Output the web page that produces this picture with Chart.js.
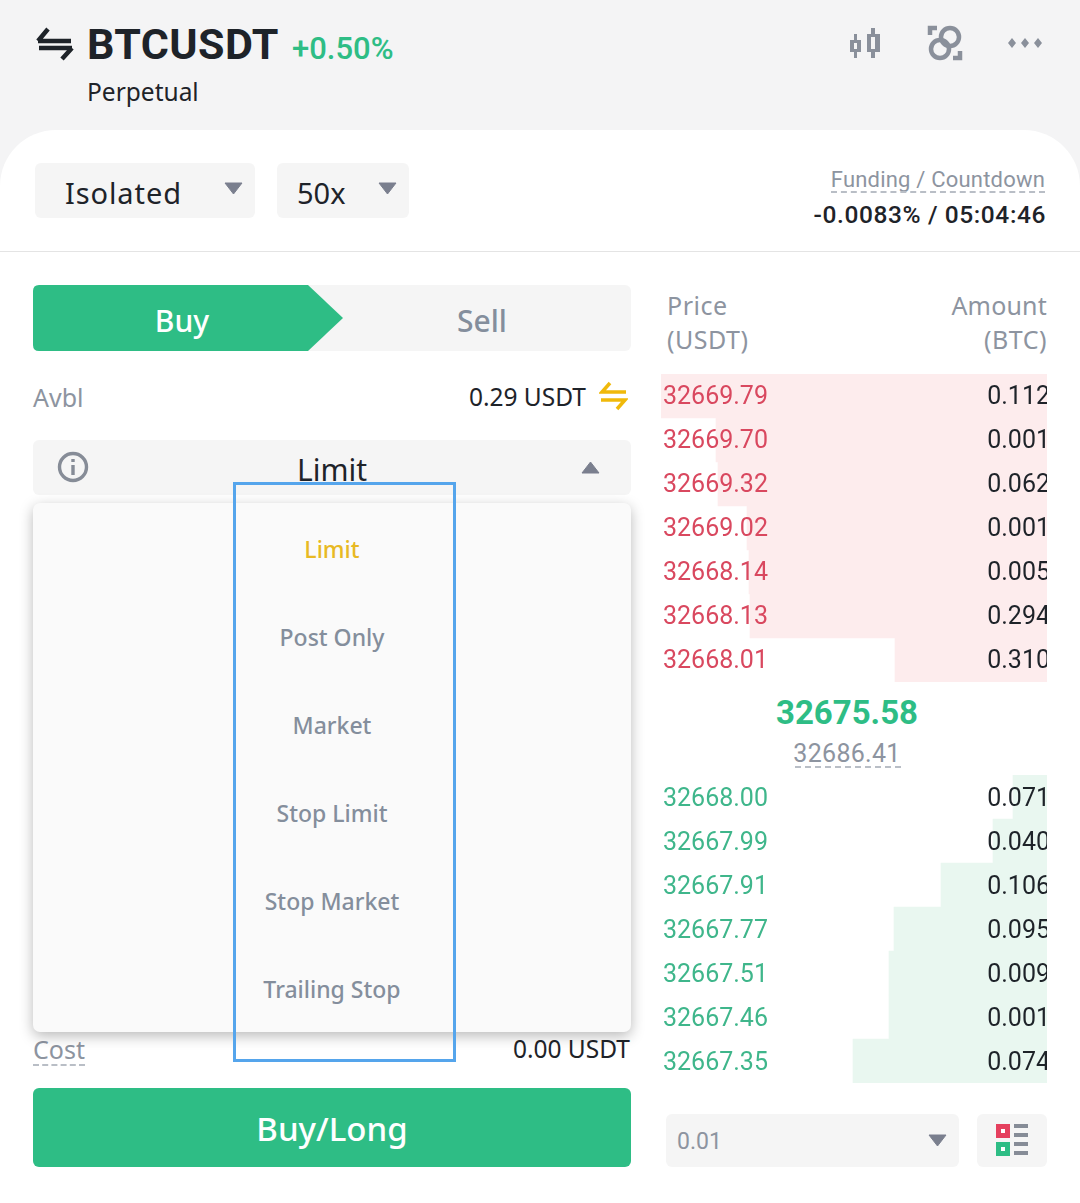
<!DOCTYPE html>
<html>
<head>
<meta charset="utf-8">
<script src="https://cdn.jsdelivr.net/npm/chart.js"></script>
<style>
  html, body { margin: 0; padding: 0; background: #fff; }
  #page { position: relative; width: 1080px; height: 1203px; overflow: hidden; background: #fff; font-family: "Noto Sans", sans-serif; color: #1e2329; }
  #page div, #page canvas, #page svg { position: absolute; }
  .t { white-space: nowrap; transform: translateY(-50%); line-height: 1.2; }
  .c { transform: translate(-50%, -50%); }
  .r { transform: translate(-100%, -50%); }
  .num { font-family: Roboto, sans-serif; }
  .gray { color: #8d94a0; }
  .box { background: #f5f5f5; border-radius: 6px; }
  .dash { height: 0; border-top: 2px dashed #b9bec6; }
</style>
</head>
<body>
<div id="page">
  <!-- header -->
  <div style="left:0;top:0;width:1080px;height:250px;background:#f4f4f5"></div>
  <div style="left:0;top:130px;width:1080px;height:121px;background:#fff;border-radius:56px 56px 0 0"></div>
  <div style="left:0;top:251px;width:1080px;height:1px;background:#e4e4e4"></div>

  <svg style="left:36px;top:26px" width="38" height="36" viewBox="0 0 38 36" fill="none" stroke="#1e2329" stroke-width="4.5">
    <path d="M2 15H35M2 15L12 3M36 22H3M36 22L26 33"/>
  </svg>
  <div class="t num" style="left:87px;top:45px;font-size:43px;font-weight:700;letter-spacing:.4px">BTCUSDT</div>
  <div class="t num" style="left:292px;top:49px;font-size:31px;font-weight:500;color:#2ebd85">+0.50%</div>
  <div class="t" style="left:87px;top:92px;font-size:24.5px">Perpetual</div>

  <svg style="left:848px;top:26px" width="34" height="34" viewBox="0 0 34 34" fill="#8a909b">
    <path d="M6 8h3v6h4v12H9v6H6v-6H2V14h4zM6 17v6h3v-6z" fill-rule="evenodd"/>
    <path d="M23 2h4v6h5v18h-5v6h-4v-6h-4V8h4zM23 11v12h4V11z" fill-rule="evenodd"/>
  </svg>
  <svg style="left:926px;top:24px" width="38" height="38" viewBox="0 0 38 38" fill="none" stroke="#8a909b" stroke-width="4.5">
    <circle cx="14" cy="25" r="9"/><circle cx="24" cy="13" r="9"/>
    <path d="M4 11V4h7M34 27v7h-7"/>
  </svg>
  <svg style="left:1006px;top:36px" width="38" height="14" viewBox="0 0 38 14" fill="#8a909b">
    <path d="M6 2l4 5-4 5-4-5zM19 2l4 5-4 5-4-5zM32 2l4 5-4 5-4-5z"/>
  </svg>

  <div class="box" style="left:35px;top:163px;width:220px;height:55px"></div>
  <div class="t" style="left:65px;top:193px;font-size:29px;letter-spacing:.9px">Isolated</div>
  <svg style="left:224px;top:182px" width="19" height="13" viewBox="0 0 19 13" fill="#7a7f8e"><path d="M1 1h17l-8.5 11z" stroke="#7a7f8e" stroke-linejoin="round"/></svg>
  <div class="box" style="left:277px;top:163px;width:132px;height:55px"></div>
  <div class="t" style="left:297px;top:193px;font-size:29px">50x</div>
  <svg style="left:378px;top:182px" width="19" height="13" viewBox="0 0 19 13" fill="#7a7f8e"><path d="M1 1h17l-8.5 11z" stroke="#7a7f8e" stroke-linejoin="round"/></svg>

  <div class="t r gray" style="left:1045px;top:180px;font-size:22px;font-family:Roboto;letter-spacing:.2px">Funding / Countdown</div>
  <div class="dash" style="left:831px;top:191px;width:214px"></div>
  <div class="t r num" style="left:1046px;top:215px;font-size:24.5px;font-weight:500;letter-spacing:.6px">-0.0083% / 05:04:46</div>

  <!-- buy / sell -->
  <div class="box" style="left:300px;top:285px;width:331px;height:66px"></div>
  <svg style="left:33px;top:285px" width="312" height="66" viewBox="0 0 312 66" fill="#2ebd85">
    <path d="M6 0H275L310 33L275 66H6Q0 66 0 60V6Q0 0 6 0z"/>
  </svg>
  <div class="t c" style="left:182px;top:321px;font-size:30px;font-weight:500;color:#fff">Buy</div>
  <div class="t c" style="left:482px;top:321px;font-size:30px;font-weight:500;color:#848e9c">Sell</div>

  <div class="t gray" style="left:33px;top:397px;font-size:25px">Avbl</div>
  <div class="t r" style="left:586px;top:397px;font-size:24.5px">0.29 USDT</div>
  <svg style="left:599px;top:381px" width="29" height="30" viewBox="0 0 29 30" fill="none" stroke="#f0b90b" stroke-width="3.5">
    <path d="M27 11H3L11 2M2 19H26L18 28"/>
  </svg>

  <div class="box" style="left:33px;top:440px;width:598px;height:55px"></div>
  <svg style="left:57px;top:451px" width="32" height="32" viewBox="0 0 32 32" fill="none" stroke="#868c97" stroke-width="3.4">
    <circle cx="16" cy="16" r="13.5"/><path d="M16 14V24M16 8V11"/>
  </svg>
  <div class="t c" style="left:332px;top:470px;font-size:30px">Limit</div>
  <svg style="left:581px;top:461px" width="19" height="13" viewBox="0 0 19 13" fill="#7a7f8e"><path d="M1 12h17L9.5 1z" stroke="#7a7f8e" stroke-linejoin="round"/></svg>

  <!-- cost row sits under the open menu -->
  <div class="t gray" style="left:33px;top:1049px;font-size:25px">Cost</div>
  <div class="dash" style="left:33px;top:1064px;width:52px"></div>
  <div class="t r" style="left:630px;top:1049px;font-size:24.5px">0.00 USDT</div>

  <div id="menu" style="left:33px;top:503px;width:598px;height:529px;background:#fafafa;border-radius:7px;box-shadow:0 4px 14px rgba(0,0,0,.28)"></div>
  <div id="outline" style="left:233px;top:482px;width:217px;height:574px;border:3px solid #55a5ec;box-sizing:content-box"></div>

  <div style="left:33px;top:1088px;width:598px;height:79px;background:#2ebd85;border-radius:6px"></div>
  <div class="t c" style="left:332px;top:1129px;font-size:33px;font-weight:500;color:#fff">Buy/Long</div>

  <!-- order book -->
  <div class="t gray" style="left:667px;top:305px;font-size:25px;letter-spacing:.5px">Price</div>
  <div class="t gray" style="left:667px;top:339px;font-size:25px;letter-spacing:.5px">(USDT)</div>
  <div class="t r gray" style="left:1047px;top:305px;font-size:25px;letter-spacing:.2px">Amount</div>
  <div class="t r gray" style="left:1047px;top:339px;font-size:25px;letter-spacing:.5px">(BTC)</div>

  <canvas id="asks" width="386" height="308" style="left:661px;top:374px"></canvas>
  <div class="t c num" style="left:847px;top:713px;font-size:33px;font-weight:700;color:#2ebd85">32675.58</div>
  <div class="t c num gray" style="left:847px;top:754px;font-size:25px;letter-spacing:.3px">32686.41</div>
  <div class="dash" style="left:795px;top:766px;width:106px"></div>
  <canvas id="bids" width="386" height="308" style="left:661px;top:775px"></canvas>

  <div class="box" style="left:666px;top:1114px;width:293px;height:53px"></div>
  <div class="t num" style="left:677px;top:1142px;font-size:23px;color:#8d94a0">0.01</div>
  <svg style="left:928px;top:1134px" width="19" height="13" viewBox="0 0 19 13" fill="#7a7f8e"><path d="M1 1h17l-8.5 11z" stroke="#7a7f8e" stroke-linejoin="round"/></svg>
  <div class="box" style="left:977px;top:1114px;width:70px;height:53px"></div>
  <svg style="left:996px;top:1124px" width="32" height="33" viewBox="0 0 32 33">
    <path d="M0 0h14v14H0z" fill="#e5405e"/><path d="M5 5h4v4H5z" fill="#fff"/>
    <path d="M0 18h14v14H0z" fill="#2ebd85"/><path d="M5 23h4v4H5z" fill="#fff"/>
    <path d="M18 0h14v4H18zM18 9h14v4H18zM18 18h14v4H18zM18 27h14v4H18z" fill="#868c97"/>
  </svg>
</div>

<script>
// order book, top to bottom
const askPrices = ["32669.79", "32669.70", "32669.32", "32669.02", "32668.14", "32668.13", "32668.01"];
const askAmounts = ["0.112", "0.001", "0.062", "0.001", "0.005", "0.294", "0.310"];
const askDepth = [386, 331, 329, 300, 298, 297, 152];

const bidPrices = ["32668.00", "32667.99", "32667.91", "32667.77", "32667.51", "32667.46", "32667.35"];
const bidAmounts = ["0.071", "0.040", "0.106", "0.095", "0.009", "0.001", "0.074"];
const bidDepth = [34, 54, 106, 153, 158, 158, 194];

const depthMax = 386;

const orderTypes = ["Limit", "Post Only", "Market", "Stop Limit", "Stop Market", "Trailing Stop"];

// dropdown entries
const page = document.getElementById("page");
orderTypes.forEach((name, i) => {
    const el = document.createElement("div");
    el.className = "t c";
    el.textContent = name;
    el.style.cssText = "left:332px;top:" + (550 + i * 88) + "px;font-size:23px;font-weight:500;color:" + (i === 0 ? "#e8b923" : "#848e9c");
    page.insertBefore(el, document.getElementById("outline"));
});

// mirrored axes should not take any room from the bars
function flatAxis(scale) {
    scale.width = 0;
    scale.paddingTop = scale.paddingBottom = scale.paddingLeft = scale.paddingRight = 0;
}

function drawBook(id, prices, amounts, depth, barColor, priceColor, shift) {
    const tickFont = { family: "Roboto", size: 25 };
    new Chart(document.getElementById(id), {
        type: "bar",
        data: {
            labels: prices,
            datasets: [{
                data: depth,
                backgroundColor: barColor,
                borderWidth: 0,
                barPercentage: 1,
                categoryPercentage: 1
            }]
        },
        options: {
            indexAxis: "y",
            responsive: false,
            animation: false,
            plugins: { legend: { display: false }, tooltip: { enabled: false } },
            scales: {
                x: { reverse: true, min: 0, max: depthMax, display: false },
                y: {
                    type: "category",
                    position: "left",
                    offset: true,
                    afterFit: flatAxis,
                    grid: { display: false },
                    border: { display: false },
                    ticks: { mirror: true, z: 1, padding: 2, color: priceColor, font: tickFont, autoSkip: false, labelOffset: shift }
                },
                amounts: {
                    type: "category",
                    axis: "y",
                    position: "right",
                    labels: amounts,
                    offset: true,
                    afterFit: flatAxis,
                    grid: { display: false },
                    border: { display: false },
                    ticks: { mirror: true, z: 1, padding: 3, color: "#1e2329", font: tickFont, autoSkip: false, labelOffset: shift }
                }
            }
        }
    });
}

drawBook("asks", askPrices, askAmounts, askDepth, "#fdeced", "#d9485f", 2);
drawBook("bids", bidPrices, bidAmounts, bidDepth, "#e9f7f0", "#3fb68b", 3);
</script>
</body>
</html>
